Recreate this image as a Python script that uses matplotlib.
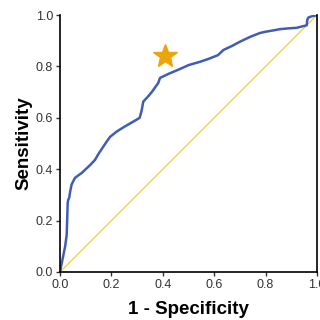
import matplotlib
matplotlib.use("Agg")
from matplotlib import pyplot as plt

plt.rcParams['font.family'] = ['Liberation Sans', 'DejaVu Sans']

# ROC curve
fpr = [0.0, 0.01, 0.02, 0.026, 0.03, 0.032, 0.036, 0.039, 0.045, 0.058, 0.07, 0.084,
       0.1, 0.117, 0.136, 0.15, 0.168, 0.18, 0.195, 0.22, 0.25, 0.285, 0.31, 0.318,
       0.324, 0.34, 0.357, 0.382, 0.389, 0.42, 0.467, 0.5, 0.545, 0.58, 0.615, 0.636,
       0.67, 0.70, 0.74, 0.778, 0.80, 0.83, 0.856, 0.89, 0.92, 0.96, 0.962, 0.966, 0.98, 1.0]
tpr = [0.0, 0.05, 0.1, 0.144, 0.27, 0.28, 0.29, 0.31, 0.34, 0.366, 0.375, 0.385,
       0.40, 0.416, 0.436, 0.46, 0.487, 0.505, 0.526, 0.546, 0.565, 0.585, 0.60, 0.63,
       0.663, 0.68, 0.70, 0.735, 0.755, 0.77, 0.79, 0.805, 0.818, 0.83, 0.844, 0.864,
       0.88, 0.896, 0.915, 0.93, 0.935, 0.94, 0.945, 0.948, 0.95, 0.96, 0.98, 0.99, 0.995, 1.0]
ref_x = [0, 1]
ref_y = [0, 1]
star_x = [0.41]
star_y = [0.84]

fig = plt.figure(figsize=(3.2, 3.2), dpi=100)
ax = fig.add_axes([60/320, 48/320, 257/320, 257/320])

ax.plot(ref_x, ref_y, color='#F7D21E', lw=0.9)
ax.plot(fpr, tpr, color='#3F5DB5', lw=1.8)
ax.plot(star_x, star_y, marker='*', ms=18, color='#EBA50A', ls='none', clip_on=False)

ax.set_xlim(0, 1)
ax.set_ylim(0, 1)
ax.set_xticks([0, 0.2, 0.4, 0.6, 0.8, 1.0])
ax.set_yticks([0, 0.2, 0.4, 0.6, 0.8, 1.0])
ax.set_xticklabels(['0.0', '0.2', '0.4', '0.6', '0.8', '1.0'])
ax.set_yticklabels(['0.0', '0.2', '0.4', '0.6', '0.8', '1.0'])
ax.tick_params(labelsize=9, length=3, width=1, colors='#333333', pad=2)
ax.spines['top'].set_visible(False)
for s in ['left', 'bottom', 'right']:
    ax.spines[s].set_linewidth(1.2)
    ax.spines[s].set_color('black')

ax.set_xlabel('1 - Specificity', fontsize=13.5, fontweight='bold', labelpad=7)
ax.set_ylabel('Sensitivity', fontsize=13.5, fontweight='bold', labelpad=2)

fig.savefig('out.png', dpi=100)
